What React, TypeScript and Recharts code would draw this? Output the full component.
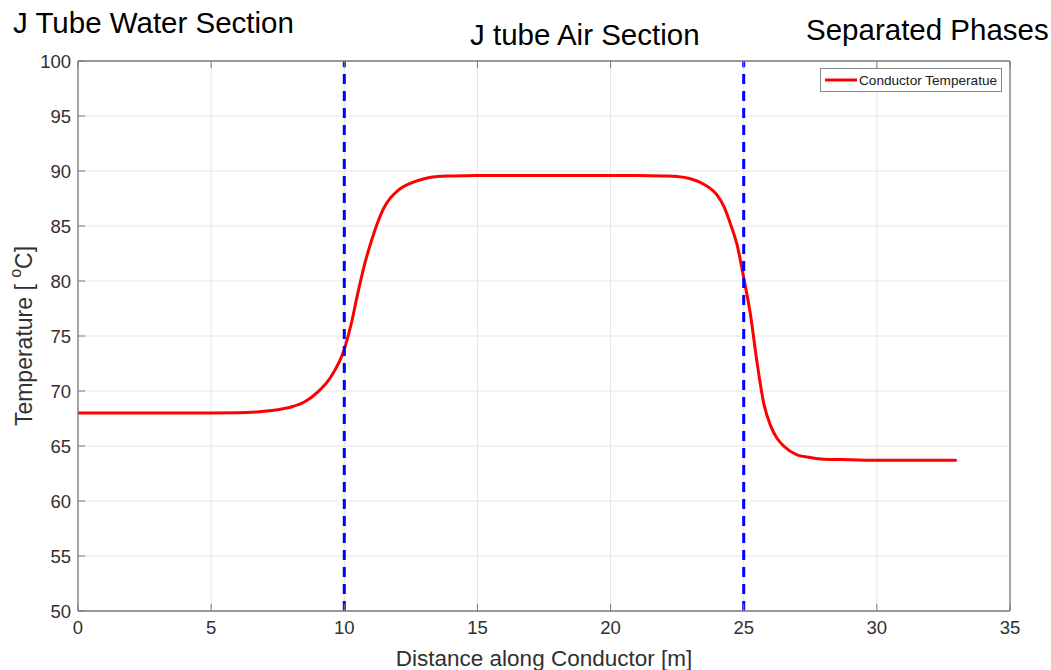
import React from 'react';
import {
  LineChart,
  Line,
  XAxis,
  YAxis,
  CartesianGrid,
  ReferenceLine,
  Legend,
} from 'recharts';

// Distance along conductor [m]
const distances = [
  0, 1, 2, 3, 4, 5, 6, 7, 7.5, 8, 8.5, 9, 9.5, 10, 10.25, 10.5, 10.75, 11, 11.25, 11.5, 11.75, 12,
  12.5, 13, 13.5, 14, 15, 16, 17, 18, 19, 20, 21, 22, 22.5, 23, 23.5, 24, 24.25, 24.5, 24.75, 25,
  25.25, 25.5, 25.75, 26, 26.25, 26.5, 27, 27.5, 28, 29, 30, 31, 32, 33,
];
// Conductor temperature [°C]
const temperatures = [
  68, 68, 68, 68, 68, 68, 68.02, 68.15, 68.3, 68.55, 69.0, 69.9, 71.3, 73.8, 76.0, 78.8, 81.4, 83.5,
  85.3, 86.7, 87.6, 88.2, 88.9, 89.3, 89.5, 89.55, 89.6, 89.6, 89.6, 89.6, 89.6, 89.6, 89.6, 89.55,
  89.5, 89.3, 88.8, 87.8, 86.8, 85.2, 83.3, 80.3, 77.0, 72.6, 68.9, 66.9, 65.7, 65.0, 64.2, 63.95,
  63.8, 63.75, 63.7, 63.7, 63.7, 63.7,
];
const xTicks = [0, 5, 10, 15, 20, 25, 30, 35];
const yTicks = [50, 55, 60, 65, 70, 75, 80, 85, 90, 95, 100];
const sectionBoundaries = [10, 25];
const seriesName = 'Conductor Temperatue';
const sectionTitles = ['J Tube Water Section', 'J tube Air Section', 'Separated Phases'];

const data = distances.map((d, i) => ({ d, t: temperatures[i] }));

const FONT = '"Liberation Sans", Arial, Helvetica, sans-serif';
const AXIS = '#7a7a7a';
const TEXT = '#303030';
const TICK_LEN = 7;

const BottomTick = (props: any) => {
  const { x, y, payload } = props;
  return (
    <g>
      <line x1={x} x2={x} y1={y - 10} y2={y - 10 - TICK_LEN} stroke={AXIS} strokeWidth={1} />
      <text x={x} y={y} dy="0.71em" textAnchor="middle" fill={TEXT} fontSize={18.5} fontFamily={FONT}>
        {payload.value}
      </text>
    </g>
  );
};
const TopTick = (props: any) => {
  const { x, y } = props;
  return <line x1={x} x2={x} y1={y} y2={y + TICK_LEN} stroke={AXIS} strokeWidth={1} />;
};
const LeftTick = (props: any) => {
  const { x, y, payload } = props;
  return (
    <g>
      <line x1={x + 7} x2={x + 7 + TICK_LEN} y1={y} y2={y} stroke={AXIS} strokeWidth={1} />
      <text x={x} y={y} dy="0.355em" textAnchor="end" fill={TEXT} fontSize={18.5} fontFamily={FONT}>
        {payload.value}
      </text>
    </g>
  );
};
const RightTick = (props: any) => {
  const { x, y } = props;
  return <line x1={x} x2={x - TICK_LEN} y1={y} y2={y} stroke={AXIS} strokeWidth={1} />;
};

const YLabel = (props: any) => {
  const vb = props.viewBox || {};
  const cx = 24;
  const cy = vb.y + vb.height / 2;
  return (
    <text
      x={cx}
      y={cy}
      transform={`rotate(-90, ${cx}, ${cy})`}
      textAnchor="middle"
      dominantBaseline="central"
      fill={TEXT}
      fontSize={23}
      fontFamily={FONT}
    >
      Temperature [ <tspan dy={-9} fontSize={16}>o</tspan>
      <tspan dy={9}>C]</tspan>
    </text>
  );
};

const XLabel = (props: any) => {
  const vb = props.viewBox || {};
  return (
    <text
      x={vb.x + vb.width / 2}
      y={666}
      textAnchor="middle"
      fill={TEXT}
      fontSize={22.5}
      fontFamily={FONT}
    >
      Distance along Conductor [m]
    </text>
  );
};

const LegendBox = () => (
  <div
    style={{
      border: '1px solid #8a8a8a',
      background: '#fff',
      display: 'flex',
      alignItems: 'center',
      height: 22,
      padding: '0 4px',
      fontFamily: FONT,
      fontSize: 13.6,
      color: '#202020',
      whiteSpace: 'nowrap',
    }}
  >
    <svg width={32} height={6} style={{ marginRight: 2 }}>
      <line x1={0} x2={32} y1={3} y2={3} stroke="#ff0000" strokeWidth={3} />
    </svg>
    {seriesName}
  </div>
);

const titleStyle = (left: number, top: number): React.CSSProperties => ({
  position: 'absolute',
  left,
  top,
  fontFamily: FONT,
  fontSize: 29.5,
  color: '#000',
  whiteSpace: 'nowrap',
  lineHeight: 1,
});

export default function App() {
  return (
    <div style={{ position: 'absolute', left: 0, top: 0, width: 1051, height: 670, background: '#fff' }}>
      <div style={titleStyle(13, 8)}>{sectionTitles[0]}</div>
      <div style={titleStyle(470, 20)}>{sectionTitles[1]}</div>
      <div style={titleStyle(806, 15)}>{sectionTitles[2]}</div>
      <LineChart
        width={1051}
        height={670}
        data={data}
        margin={{ top: 60, right: 40, bottom: 29, left: 18 }}
      >
        <CartesianGrid stroke="#e6e6e6" strokeWidth={1} />
        <XAxis
          dataKey="d"
          type="number"
          domain={[0, 35]}
          ticks={xTicks}
          height={30}
          axisLine={{ stroke: AXIS, strokeWidth: 1.3 }}
          tickLine={false}
          tickSize={0}
          tickMargin={10}
          tick={<BottomTick />}
          interval={0}
          label={<XLabel />}
        />
        <XAxis
          xAxisId="top"
          orientation="top"
          dataKey="d"
          type="number"
          domain={[0, 35]}
          ticks={xTicks}
          height={1}
          axisLine={{ stroke: AXIS, strokeWidth: 1.3 }}
          tickLine={false}
          tickSize={0}
          tickMargin={0}
          tick={<TopTick />}
          interval={0}
        />
        <YAxis
          type="number"
          domain={[50, 100]}
          ticks={yTicks}
          width={60}
          axisLine={{ stroke: AXIS, strokeWidth: 1.3 }}
          tickLine={false}
          tickSize={0}
          tickMargin={7}
          tick={<LeftTick />}
          interval={0}
          label={<YLabel />}
        />
        <YAxis
          yAxisId="right"
          orientation="right"
          type="number"
          domain={[50, 100]}
          ticks={yTicks}
          width={1}
          axisLine={{ stroke: AXIS, strokeWidth: 1.3 }}
          tickLine={false}
          tickSize={0}
          tickMargin={0}
          tick={<RightTick />}
          interval={0}
        />
        <Legend
          layout="vertical"
          align="center"
          verticalAlign="middle"
          content={<LegendBox />}
          wrapperStyle={{ position: 'absolute', left: 820, top: 68, width: 'auto' }}
        />
        <Line
          dataKey="t"
          name={seriesName}
          type="monotone"
          stroke="#ff0000"
          strokeWidth={3}
          dot={false}
          isAnimationActive={false}
        />
        {sectionBoundaries.map((b) => (
          <ReferenceLine
            key={b}
            x={b}
            stroke="#0000ff"
            strokeWidth={3}
            strokeDasharray="10 7"
          />
        ))}
      </LineChart>
    </div>
  );
}
